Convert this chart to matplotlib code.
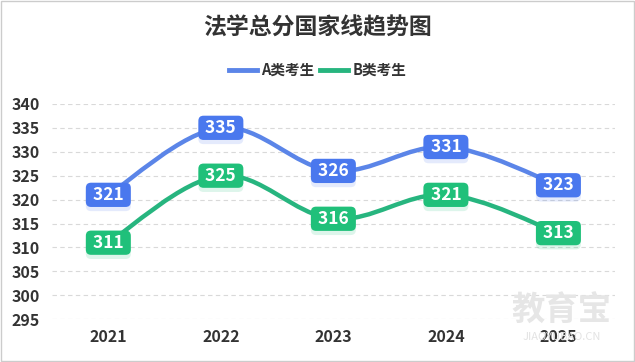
import numpy as np
import matplotlib.pyplot as plt
import matplotlib.patheffects as pe
from matplotlib.path import Path
from matplotlib.patches import PathPatch, Rectangle

plt.rcParams['font.family'] = ['Noto Sans CJK SC', 'DejaVu Sans']

years = ["2021", "2022", "2023", "2024", "2025"]
score_a = [321, 335, 326, 331, 323]
score_b = [311, 325, 316, 321, 313]
yticks = [295, 300, 305, 310, 315, 320, 325, 330, 335, 340]

blue = "#5b85e8"
blue_box = "#4a78ee"
green = "#27b57f"
green_box = "#20c07a"


def smooth_path(xs, ys, k=0.35):
    # cubic bezier through the points (catmull-rom style handles)
    verts = [(xs[0], ys[0])]
    codes = [Path.MOVETO]
    n = len(xs)
    for i in range(n - 1):
        x0, y0 = xs[max(i - 1, 0)], ys[max(i - 1, 0)]
        x1, y1 = xs[i], ys[i]
        x2, y2 = xs[i + 1], ys[i + 1]
        x3, y3 = xs[min(i + 2, n - 1)], ys[min(i + 2, n - 1)]
        c1 = (x1 + (x2 - x0) * k / 2, y1 + (y2 - y0) * k / 2)
        c2 = (x2 - (x3 - x1) * k / 2, y2 - (y3 - y1) * k / 2)
        verts += [c1, c2, (x2, y2)]
        codes += [Path.CURVE4] * 3
    return Path(verts, codes)


fig = plt.figure(figsize=(6.35, 3.62), dpi=100)
ax = fig.add_axes([0.082, 0.118, 0.886, 0.595])

x = np.arange(len(years))
for vals, col, box in [(score_a, blue, blue_box), (score_b, green, green_box)]:
    ax.add_patch(PathPatch(smooth_path(x, vals), fill=False, edgecolor=col,
                           linewidth=3.2, capstyle="round", zorder=3))
    for xi, v in zip(x, vals):
        t = ax.text(xi, v, " %d " % v, ha="center", va="center", color="white",
                    fontsize=12.5, fontweight="bold", zorder=5,
                    bbox=dict(boxstyle="round,pad=0.18,rounding_size=0.3",
                              facecolor=box, edgecolor="none"))
        t.get_bbox_patch().set_path_effects([
            pe.SimplePatchShadow(offset=(0, -3), shadow_rgbFace=box, alpha=0.15),
            pe.Normal()])

ax.set_xlim(-0.5, 4.5)
ax.set_ylim(295, 340)
ax.set_yticks(yticks)
ax.set_xticks(x)
ax.set_xticklabels(years)
ax.tick_params(length=0, labelsize=11.5, colors="#333333")
ax.tick_params(axis="x", pad=7)
ax.tick_params(axis="y", pad=9)
for lab in ax.get_xticklabels() + ax.get_yticklabels():
    lab.set_fontweight("bold")
ax.grid(axis="y", linestyle=(0, (4, 3)), color="#d9d9d9", linewidth=0.8)
for s in ax.spines.values():
    s.set_visible(False)

fig.text(0.5, 0.922, "法学总分国家线趋势图", ha="center", va="center",
         fontsize=16.5, fontweight="heavy", color="#333333")

# legend
ax.plot([], [], color=blue, linewidth=3.5, label="A类考生")
ax.plot([], [], color=green, linewidth=3.5, label="B类考生")
leg = ax.legend(loc="center", bbox_to_anchor=(0.5, 0.807), bbox_transform=fig.transFigure,
                ncol=2, frameon=False, handlelength=1.9, handletextpad=0.3,
                columnspacing=0.4, prop={"weight": "bold", "size": 10.5})
for t in leg.get_texts():
    t.set_color("#333333")

# watermark
fig.text(0.885, 0.14, "教育宝", ha="center", va="center", fontsize=24,
         color="#e6e6e6", fontweight="bold", zorder=0)
fig.text(0.885, 0.068, "JIAOYUBAO.CN", ha="center", va="center", fontsize=8,
         color="#e3e3e3", zorder=0)

fig.patches.append(Rectangle((0.002, 0.003), 0.996, 0.994, transform=fig.transFigure,
                             fill=False, edgecolor="#cccccc", linewidth=1))

fig.savefig("out.png", dpi=100)
